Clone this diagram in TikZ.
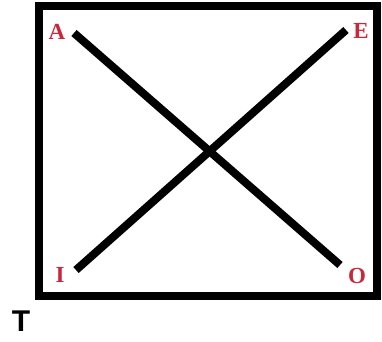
\documentclass[tikz,border=0pt]{standalone}
\usepackage{fontspec}
\setmainfont{Liberation Serif}
\newfontfamily\labsans{Liberation Sans}
\definecolor{lab}{RGB}{200,40,60}
\begin{document}
\begin{tikzpicture}[x=1pt,y=-1pt,
  frame/.style={line width=8pt},
  bar/.style={line width=8pt},
  vlabel/.style={text=lab,font=\fontsize{23}{23}\selectfont\bfseries,inner sep=0pt}]
\useasboundingbox (0,0) rectangle (382,341);
\draw[frame] (39,6) rectangle (377,296);
\node[vlabel] (A) at (57,32) {A};
\node[vlabel] (E) at (361,31) {E};
\node[vlabel] (I) at (60,275) {I};
\node[vlabel] (O) at (357,276) {O};
\coordinate (a) at (74,33);
\coordinate (o) at (340,265);
\coordinate (e) at (346,30);
\coordinate (i) at (76,270);
\draw[bar] (a) -- (o);
\draw[bar] (e) -- (i);
\node[font=\labsans\bfseries\fontsize{30}{30}\selectfont,inner sep=0pt] (T) at (21,321) {T};
\end{tikzpicture}
\end{document}
